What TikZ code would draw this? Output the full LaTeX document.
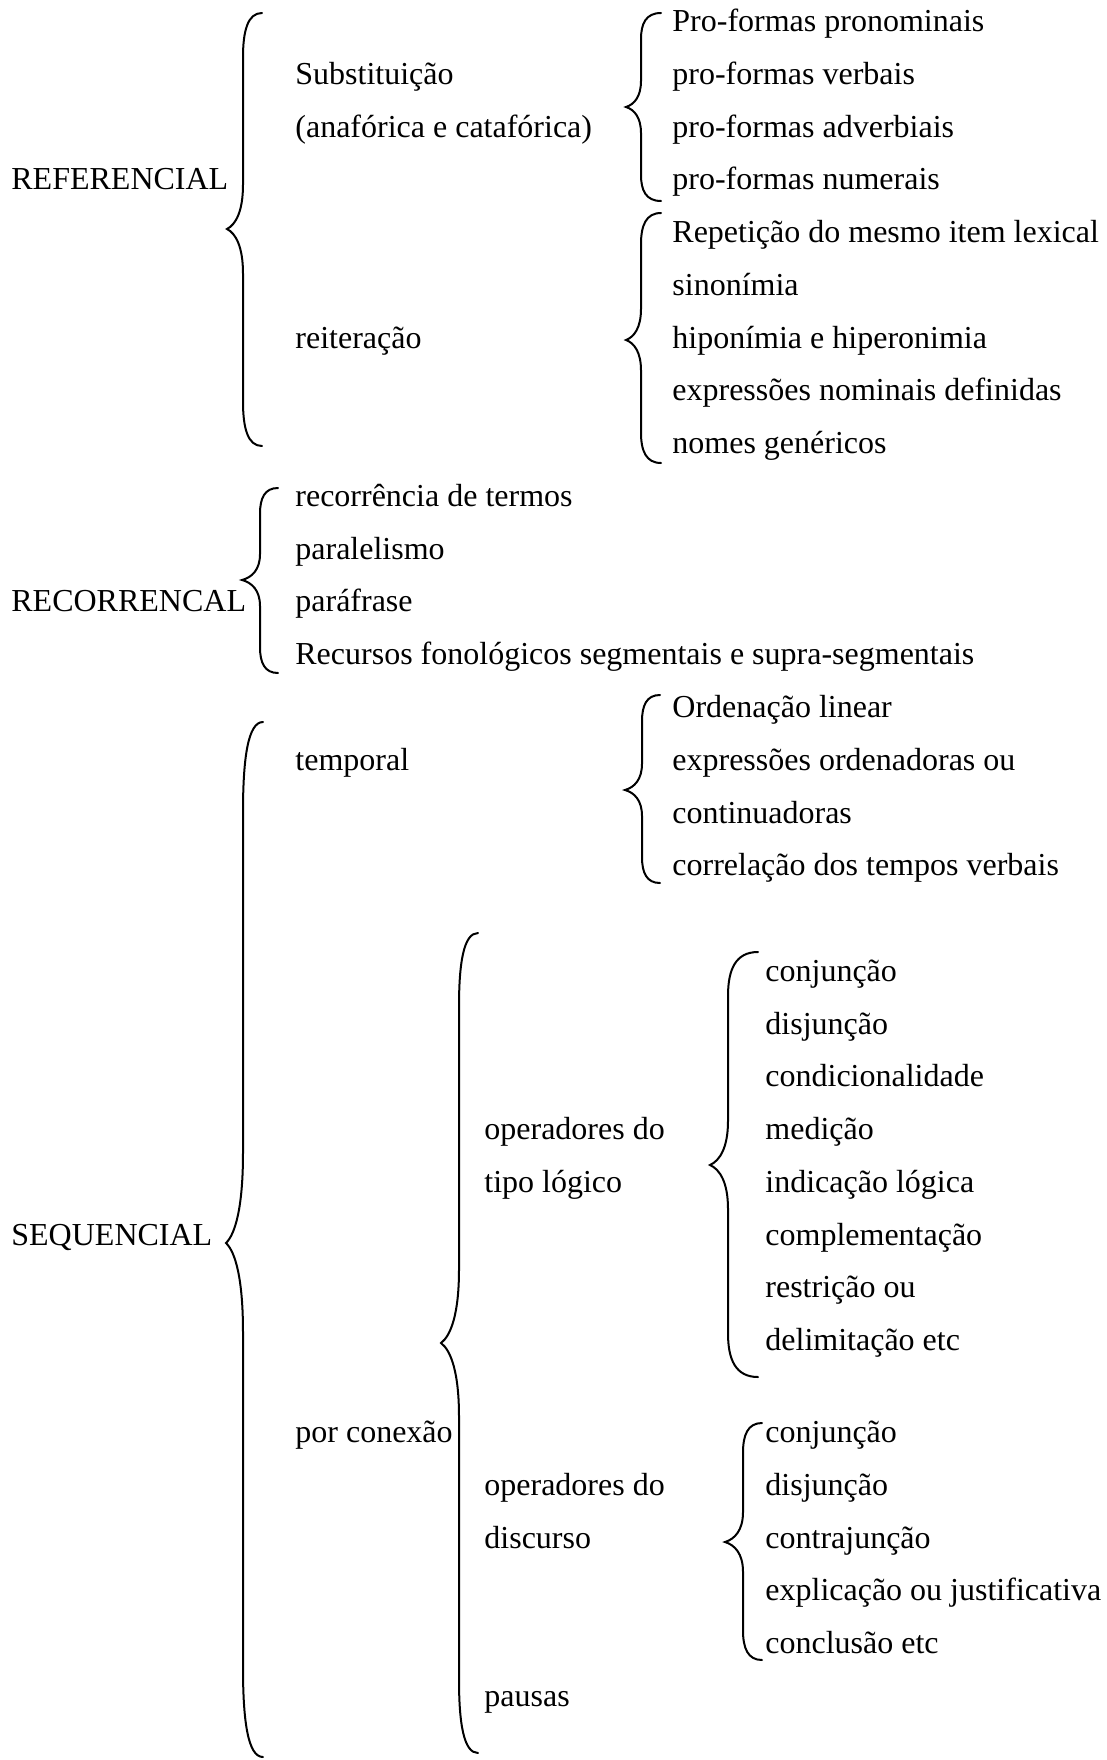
\documentclass[tikz,border=0pt]{standalone}
\usepackage{fontspec}
\setmainfont{Liberation Serif}

\begin{document}
\begin{tikzpicture}[x=0.5pt, y=-0.5pt,
		txt/.style={anchor=base west, inner sep=0pt, font=\fontsize{16}{19}\selectfont},
		chave/.style={line width=1pt, line cap=round}]
	\useasboundingbox (0,0) rectangle (1107,1760);
	\pgfmathsetmacro{\lh}{52.77}
	\pgfmathsetmacro{\ybase}{31.5}
	\node[txt] (ref) at (11,{\ybase+3*\lh}) {REFERENCIAL};
	\node[txt] (rec) at (11,{\ybase+11*\lh}) {RECORRENCAL};
	\node[txt] (seq) at (11,{\ybase+23*\lh}) {SEQUENCIAL};
	\node[txt] (sub) at (295,{\ybase+1*\lh}) {Substituição};
	\node[txt] (ana) at (295,{\ybase+2*\lh}) {(anafórica e catafórica)};
	\node[txt] (rei) at (295,{\ybase+6*\lh}) {reiteração};
	\node[txt] (tmp) at (295,{\ybase+14*\lh}) {temporal};
	\node[txt] (con) at (295,{\ybase+26.74*\lh}) {por conexão};
	\node[txt] (opl) at (484,{\ybase+21*\lh}) {operadores do};
	\node[txt] (tip) at (484,{\ybase+22*\lh}) {tipo lógico};
	\node[txt] (opd) at (484,{\ybase+27.74*\lh}) {operadores do};
	\node[txt] (dis) at (484,{\ybase+28.74*\lh}) {discurso};
	\node[txt] (pau) at (484,{\ybase+31.74*\lh}) {pausas};
	\foreach \lab [count=\i from 0] in {Pro-formas pronominais, pro-formas verbais, pro-formas adverbiais, pro-formas numerais}
		\node[txt] (pf\i) at (672,{\ybase+\i*\lh}) {\lab};
	\foreach \lab [count=\i from 4] in {Repetição do mesmo item lexical, sinonímia, hiponímia e hiperonimia, expressões nominais definidas, nomes genéricos}
		\node[txt] (rp\i) at (672,{\ybase+\i*\lh}) {\lab};
	\foreach \lab [count=\i from 9] in {recorrência de termos, paralelismo, paráfrase, Recursos fonológicos segmentais e supra-segmentais}
		\node[txt] (rc\i) at (295,{\ybase+\i*\lh}) {\lab};
	\foreach \lab [count=\i from 13] in {Ordenação linear, expressões ordenadoras ou, continuadoras, correlação dos tempos verbais}
		\node[txt] (or\i) at (672,{\ybase+\i*\lh}) {\lab};
	\foreach \lab [count=\i from 18] in {conjunção, disjunção, condicionalidade, medição, indicação lógica, complementação, restrição ou, delimitação etc}
		\node[txt] (lg\i) at (765,{\ybase+\i*\lh}) {\lab};
	\foreach \lab [count=\i from 0] in {conjunção, disjunção, contrajunção, explicação ou justificativa, conclusão etc}
		\node[txt] (ds\i) at (765,{\ybase+(26.74+\i)*\lh}) {\lab};
	\foreach \xs/\yt/\ym/\yb/\arm/\tipw in {243/13/229/446/19/16, 641/13/107/201/20/15, 641/213/340/463/20/15, 260/488/580/673/18/18, 642/695/790/883/18/17, 243/722/1243/1757/20/17, 459/933/1343/1753/19/18, 728/952/1165/1377/30/18, 743/1423/1542/1660/19/18} {
		\pgfmathsetmacro{\ha}{12+0.15*(\ym-\yt)}
		\pgfmathsetmacro{\hb}{12+0.15*(\yb-\ym)}
		\draw[chave] ({\xs+\arm},\yt) .. controls ({\xs+0.25*\arm},\yt) and (\xs,{\yt+0.4*\ha}) .. (\xs,{\yt+\ha})
			-- (\xs,{\ym-\ha}) .. controls (\xs,{\ym-0.4*\ha}) and ({\xs-0.45*\tipw},{\ym-0.1*\ha}) .. ({\xs-\tipw},\ym)
			.. controls ({\xs-0.45*\tipw},{\ym+0.1*\hb}) and (\xs,{\ym+0.4*\hb}) .. (\xs,{\ym+\hb})
			-- (\xs,{\yb-\hb}) .. controls (\xs,{\yb-0.4*\hb}) and ({\xs+0.25*\arm},\yb) .. ({\xs+\arm},\yb);
	}
\end{tikzpicture}
\end{document}
